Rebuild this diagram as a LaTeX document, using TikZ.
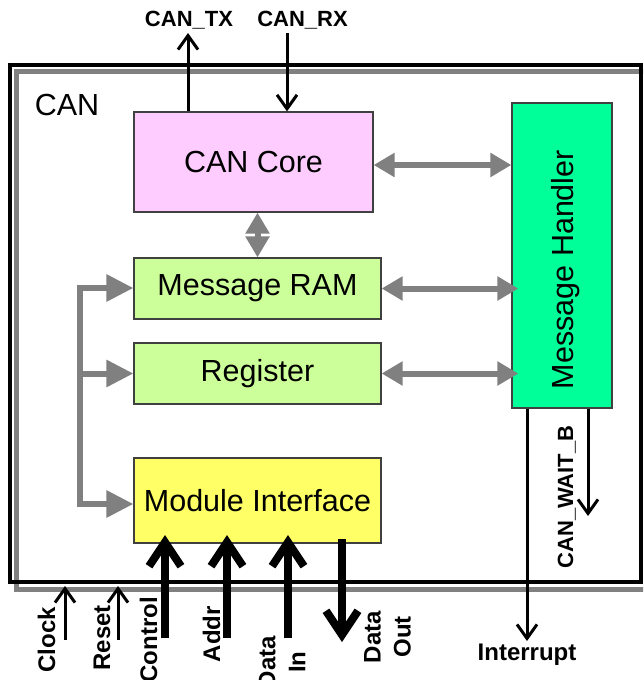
\documentclass[tikz,border=0pt]{standalone}
\usepackage{fontspec}
\setmainfont{Liberation Sans}
\usetikzlibrary{arrows.meta}
\definecolor{corepink}{HTML}{FFCCFF}
\definecolor{ramgreen}{HTML}{CCFF99}
\definecolor{mhgreen}{HTML}{00FF99}
\definecolor{miyellow}{HTML}{FFFF66}
\definecolor{busgray}{HTML}{808080}
\definecolor{boxedge}{HTML}{404040}
\begin{document}
\begin{tikzpicture}[x=1pt,y=-1pt,
  blk/.style={draw=boxedge, line width=1.2pt, inner sep=0pt},
  bigtxt/.style={font=\fontsize{30.5}{36}\selectfont},
  lbl/.style={font=\bfseries\fontsize{24}{30}\selectfont, inner sep=0pt},
  canlbl/.style={font=\bfseries\fontsize{22}{26}\selectfont, inner sep=0pt},
  gbus/.style={draw=busgray, line width=6pt},
  gdbl/.style={gbus, {Triangle[length=21pt,width=23pt]}-{Triangle[length=21pt,width=23pt]}},
  sig/.style={draw=black, line width=3pt, -{Straight Barb[length=14pt,width=20pt]}},
  fatsig/.style={draw=black, line width=8pt, -{Straight Barb[length=24pt,width=32pt]}},
]
\path[use as bounding box] (0,0) rectangle (643,680);
\clip (0,0) rectangle (643,680);
% frame
\draw[busgray, line width=5pt] (16,71) rectangle (647,589);
\draw[black, line width=4pt] (10,65) rectangle (641,582);
\node[bigtxt, anchor=base, inner sep=0pt] (canl) at (67,115) {CAN};
% blocks
\node[blk, bigtxt, fill=corepink, minimum width=239pt, minimum height=100pt] (core) at (253.5,162) {CAN Core};
\node[blk, bigtxt, fill=ramgreen, minimum width=247pt, minimum height=61pt] (mram) at (257.5,288.5) {Message RAM};
\node[blk, bigtxt, fill=ramgreen, minimum width=247pt, minimum height=61pt] (reg) at (257.5,373.5) {Register};
\node[blk, bigtxt, fill=miyellow, minimum width=247pt, minimum height=85pt] (mi) at (257.5,500.5) {Module Interface};
\node[blk, fill=mhgreen, minimum width=100pt, minimum height=305pt] (mh) at (562,255.5) {};
\node[bigtxt, rotate=90, anchor=base, inner sep=0pt] (mhtxt) at (573.3,269.6) {Message Handler};
% gray connections
\draw[gdbl] (core.east |- 0,165) -- (mh.west |- 0,165);
\draw[gdbl] (mram.east) -- ([xshift=7pt]mh.west |- mram.east);
\draw[gdbl] (reg.east) -- ([xshift=7pt]mh.west |- reg.east);
\draw[gdbl] (mram.north |- core.south) -- (mram.north);
\coordinate (bt) at (80,288);
\coordinate (bb) at (80,504);
\draw[gbus, line join=miter, {Triangle[length=27pt,width=26pt]}-{Triangle[length=27pt,width=26pt]}] (bb -| mi.west) -- (bb) -- (bt) -- (bt -| mram.west);
\draw[gbus, -{Triangle[length=27pt,width=26pt]}] (bt |- reg.west) -- (reg.west);
% top signals
\coordinate (tx) at (188,33);
\coordinate (rx) at (287,33);
\draw[sig] (tx |- core.north) -- (tx);
\draw[sig] (rx) -- (rx |- core.north);
\node[canlbl, anchor=base] (txl) at (189,26.7) {CAN\_TX};
\node[canlbl, anchor=base] (rxl) at (302.5,26.7) {CAN\_RX};
% right signals
\coordinate (intr) at (527,641);
\coordinate (wait) at (588,516);
\draw[sig] (intr |- mh.south) -- (intr);
\draw[sig] (wait |- mh.south) -- (wait);
\node[lbl, anchor=base] (intl) at (527,660) {Interrupt};
\node[canlbl, rotate=90, anchor=base] (waitl) at (573,497) {CAN\_WAIT\_B};
% bottom signals
\coordinate (clkb) at (65,640);
\coordinate (clkt) at (65,586);
\coordinate (rstb) at (118,640);
\coordinate (rstt) at (118,586);
\draw[sig] (clkb) -- (clkt);
\draw[sig] (rstb) -- (rstt);
\node[lbl, rotate=90, anchor=base east] (clkl) at (55,607) {Clock};
\node[lbl, rotate=90, anchor=base east] (rstl) at (110,605) {Reset};
\coordinate (ctlb) at (165,638);
\coordinate (adrb) at (227,638);
\coordinate (dinb) at (288,638);
\coordinate (dob) at (342,642);
\draw[fatsig] (ctlb) -- (ctlb |- 0,535);
\draw[fatsig] (adrb) -- (adrb |- 0,535);
\draw[fatsig] (dinb) -- (dinb |- 0,535);
\draw[fatsig] (dob |- 0,539) -- (dob);
\node[lbl, rotate=90, anchor=base east] (ctll) at (157,597) {Control};
\node[lbl, rotate=90, anchor=base east] (adrl) at (220,606) {Addr};
\node[lbl, rotate=90, align=center] (dinl) at (282,662) {Data\\In};
\node[lbl, rotate=90, align=center] (doutl) at (387.5,637) {Data\\Out};
\end{tikzpicture}
\end{document}
